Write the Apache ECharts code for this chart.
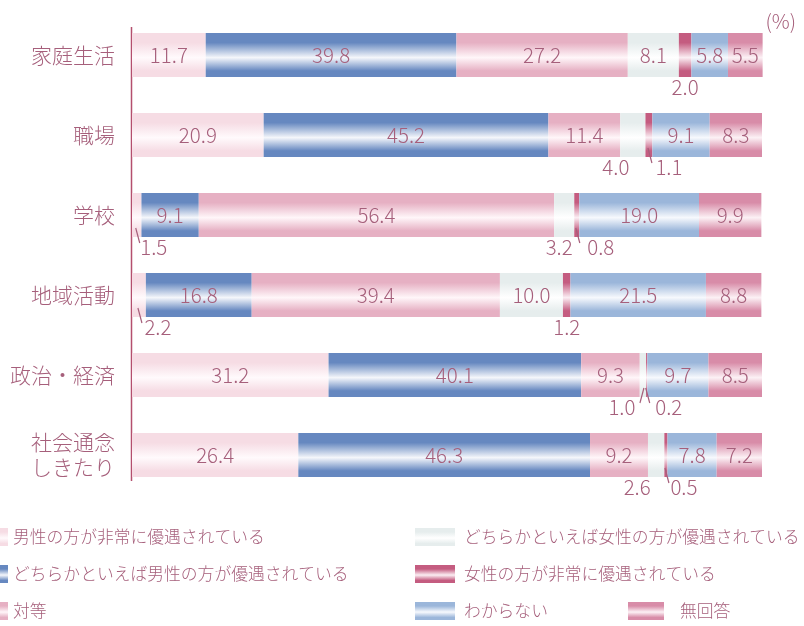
<!DOCTYPE html>
<html><head><meta charset="utf-8">
<script src="https://cdn.jsdelivr.net/npm/echarts@6/dist/echarts.min.js"></script>
<style>html,body{margin:0;padding:0;background:#fff}#c{width:804px;height:626px}</style>
</head><body><div id="c"></div>
<script>
// ---- data ----
const categories = ['家庭生活', '職場', '学校', '地域活動', '政治・経済', '社会通念\nしきたり'];
const seriesNames = [
  '男性の方が非常に優遇されている',
  'どちらかといえば男性の方が優遇されている',
  '対等',
  'どちらかといえば女性の方が優遇されている',
  '女性の方が非常に優遇されている',
  'わからない',
  '無回答'
];
const maleVery       = [11.7, 20.9, 1.5, 2.2, 31.2, 26.4];
const maleSomewhat   = [39.8, 45.2, 9.1, 16.8, 40.1, 46.3];
const equalShare     = [27.2, 11.4, 56.4, 39.4, 9.3, 9.2];
const femaleSomewhat = [8.1, 4.0, 3.2, 10.0, 1.0, 2.6];
const femaleVery     = [2.0, 1.1, 0.8, 1.2, 0.2, 0.5];
const unknownShare   = [5.8, 9.1, 19.0, 21.5, 9.7, 7.8];
const noAnswer       = [5.5, 8.3, 9.9, 8.8, 8.5, 7.2];
const allValues = [maleVery, maleSomewhat, equalShare, femaleSomewhat, femaleVery, unknownShare, noAnswer];

// ---- styles / layout ----
const baseColors = ['#f6dce4', '#6688c0', '#e6b0c3', '#e6eded', '#c45c80', '#9bb6da', '#d88ca8'];
const midColors  = ['#fffafc', '#f5f7fb', '#fff6f9', '#ffffff', '#fbeef3', '#f7f9fd', '#fcf1f5'];
const textColor = '#a65f7b';
const FONT = '"Noto Sans CJK JP", "Noto Sans", sans-serif';
const FW = 300;
const BAR = 44;
const VALUE_SIZE = 20.5;
// outside labels: [seriesIndex, categoryIndex, dx, leaderDir]
const outsideSpec = [
  [4, 0, 0, 0],
  [3, 1, -17, 0], [4, 1, 20, 1],
  [0, 2, 17, 1], [3, 2, -5, 0], [4, 2, 24, 1],
  [0, 3, 19, 1], [4, 3, 0, 0],
  [3, 4, -21, -1], [4, 4, 22, 1],
  [3, 5, -19, 0], [4, 5, 18, 1]
];
const isOutside = (s, c) => outsideSpec.some(o => o[0] === s && o[1] === c);

function grad(i) {
  const c = baseColors[i], m = midColors[i];
  return new echarts.graphic.LinearGradient(0, 0, 0, 1, [
    {offset: 0, color: c}, {offset: 0.22, color: c},
    {offset: 0.56, color: m},
    {offset: 0.86, color: c}, {offset: 1, color: c}
  ]);
}

const barSeries = allValues.map((arr, s) => ({
  name: seriesNames[s],
  type: 'bar',
  stack: 'total',
  barWidth: BAR,
  clip: false,
  itemStyle: {color: grad(s)},
  label: {
    show: true, position: 'inside', color: textColor, fontSize: VALUE_SIZE,
    fontFamily: FONT, fontWeight: FW, formatter: p => Number(p.value).toFixed(1)
  },
  emphasis: {disabled: true},
  data: arr.map((v, c) => isOutside(s, c) ? {value: v, label: {show: false}} : v)
}));

const outsideData = outsideSpec.map(([s, c, dx, dir]) => {
  let start = 0;
  for (let k = 0; k < s; k++) start += allValues[k][c];
  return [start, start + allValues[s][c], c, dx, dir, s];
});

const outsideSeries = {
  type: 'custom',
  name: 'outside',
  z: 5,
  silent: true,
  data: outsideData,
  renderItem(params, api) {
    const start = api.value(0), end = api.value(1), cat = api.value(2);
    const dx = api.value(3), dir = api.value(4), s = api.value(5);
    const p0 = api.coord([start, cat]), p1 = api.coord([end, cat]);
    const cx = (p0[0] + p1[0]) / 2, cy = p0[1];
    const bottom = cy + BAR / 2;
    const children = [{
      type: 'text',
      style: {
        text: allValues[s][cat].toFixed(1), x: cx + dx, y: cy + 32,
        align: 'center', verticalAlign: 'middle', fontSize: VALUE_SIZE,
        fontFamily: FONT, fontWeight: FW, fill: textColor
      }
    }];
    if (dir !== 0) {
      children.push({
        type: 'line',
        shape: {x1: cx - dir * 1, y1: bottom - 9, x2: cx + dir * 3, y2: bottom + 6},
        style: {stroke: textColor, lineWidth: 1.2}
      });
    }
    return {type: 'group', children};
  }
};

const legendText = {fontSize: 16.8, color: textColor, fontFamily: FONT, fontWeight: FW};
const legendCommon = {
  orient: 'vertical', icon: 'rect', itemWidth: 40, itemHeight: 18, itemGap: 19,
  padding: 0, selectedMode: false
};

const chart = echarts.init(document.getElementById('c'));
chart.setOption({
  animation: false,
  backgroundColor: '#ffffff',
  title: {
    text: '(%)', right: 3, top: 6,
    textStyle: {fontSize: 20, fontWeight: FW, color: textColor, fontFamily: FONT}
  },
  grid: {left: 132, right: 42, top: 15, height: 480},
  xAxis: {type: 'value', min: 0, max: 100, show: false},
  yAxis: {
    type: 'category', data: categories, inverse: true,
    axisLine: {show: false}, axisTick: {show: false}, splitLine: {show: false},
    axisLabel: {
      fontSize: 21, color: textColor, fontFamily: FONT, fontWeight: FW, margin: 17,
      lineHeight: 25, align: 'right'
    }
  },
  legend: [
    Object.assign({}, legendCommon, {left: -32, top: 528, width: 420, height: 96,
      data: seriesNames.slice(0, 3),
      textStyle: Object.assign({}, legendText, {padding: [0, 0, 0, 0]})}),
    Object.assign({}, legendCommon, {left: 415, top: 528, width: 389, height: 96,
      data: seriesNames.slice(3, 6),
      textStyle: Object.assign({}, legendText, {padding: [0, 0, 0, 4]})}),
    Object.assign({}, legendCommon, {left: 628, top: 602, itemWidth: 36, width: 170, height: 20,
      data: seriesNames.slice(6),
      textStyle: Object.assign({}, legendText, {padding: [0, 0, 0, 11]})})
  ],
  graphic: [{
    type: 'line', shape: {x1: 131.5, y1: 27, x2: 131.5, y2: 481},
    style: {stroke: '#b44f6e', lineWidth: 1.5}, silent: true
  }],
  series: barSeries.concat([outsideSeries])
});
</script>
</body></html>
